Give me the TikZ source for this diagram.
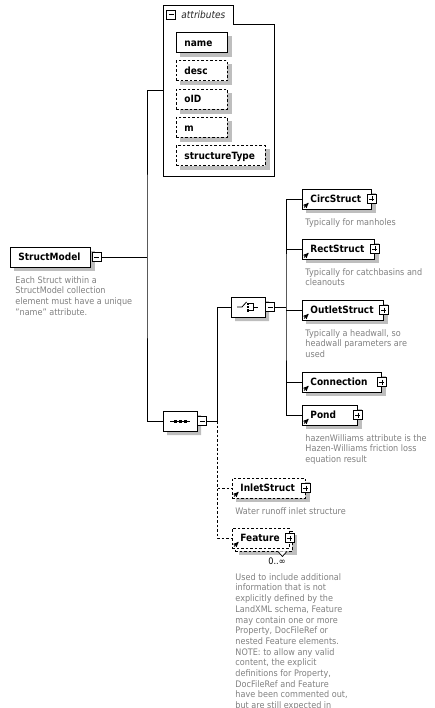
\documentclass[tikz,border=0pt]{standalone}
\usepackage{fontspec}
\setmainfont{DejaVu Sans}[FakeStretch=0.9]
\usetikzlibrary{arrows,positioning,shapes.misc,calc}

\definecolor{annotgray}{RGB}{128,128,128}
\definecolor{shadowgray}{RGB}{190,190,190}

\tikzset{
  elem/.style={draw,fill=white,font=\fontsize{10}{12}\selectfont\bfseries,
    minimum height=20pt,inner xsep=8pt,inner ysep=0pt,text height=7.5pt,text depth=0pt,
    align=left,anchor=west},
  optional/.style={dash pattern=on 2.5pt off 2pt},
  annot/.style={font=\fontsize{9}{10.7}\selectfont,text=annotgray,align=left,inner sep=0pt},
  btn/.style={draw,fill=white,solid,minimum size=9pt,inner sep=0pt,line width=0.7pt},
  minusbtn/.style={btn,path picture={
    \draw[line width=0.7pt] ([xshift=2pt]path picture bounding box.west) -- ([xshift=-2pt]path picture bounding box.east);}},
  plusbtn/.style={btn,path picture={
    \draw[line width=0.7pt] ([xshift=2pt]path picture bounding box.west) -- ([xshift=-2pt]path picture bounding box.east)
      ([yshift=-2pt]path picture bounding box.north) -- ([yshift=2pt]path picture bounding box.south);}},
  octagon/.style={chamfered rectangle,chamfered rectangle xsep=7pt,chamfered rectangle ysep=6pt,
    minimum width=34pt,minimum height=20pt,inner sep=0pt},
  compositor/.style={octagon,draw,fill=white},
  refarrow/.style={-stealth',solid,line width=0.9pt},
}

\begin{document}
\begin{tikzpicture}[x=1pt,y=-1pt,line width=0.9pt]
  \useasboundingbox (0,0) rectangle (435,708);

  % attributes frame
  \node[minimum width=111pt,minimum height=171pt,inner sep=0pt,anchor=north west] (attrs) at (163,5) {};
  \draw (attrs.south west) |- (attrs.north west) -- ++(70,0) |- ([yshift=-19pt]attrs.north east)
    -- (attrs.south east) -- cycle;
  \node[minusbtn] (attrsbtn) at (171,14.5) {};
  \node[font=\fontsize{10}{12}\selectfont\itshape,text=black!85,anchor=west,inner sep=0pt] (attrslabel)
    at (181,14.5) {attributes};

  % element boxes: box, its shadow, then the box again on top
  \foreach \n/\x/\y/\w/\s/\t in {root/10/257/64/solid/StructModel,
      name/176/42.5/35/solid/name, desc/176/70.8/35/optional/desc, oID/176/99.1/35/optional/oID,
      m/176/127.4/35/optional/m, structureType/176/155.7/73/optional/structureType,
      circ/302/199/53/solid/CircStruct, rect/302/249/56/solid/RectStruct,
      outlet/302/310/65/solid/OutletStruct, conn/302/382/63/solid/Connection,
      pond/302/415/39/solid/Pond, inlet/232/488/57/optional/InletStruct,
      featback/235/541/41/optional/{\phantom{Feature}}} {
    \node[elem,\s,text width=\w pt] (\n) at (\x,\y) {\t};
    \fill[shadowgray] ($(\n.south west)+(4,4)$) rectangle ($(\n.north east)+(4,4)$);
    \node[elem,\s,text width=\w pt] (\n) at (\x,\y) {\t};
  }
  \node[elem,optional,text width=41pt] (feature) at (232,538) {Feature};

  % notes
  \node[annot,below right=8.5pt and 5pt of root.south west] (rootnote)
    {Each Struct within a\\StructModel collection\\element must have a unique\\"name" attribute.};
  \node[annot,below right=8.5pt and 3pt of circ.south west] (circnote) {Typically for manholes};
  \node[annot,below right=8.5pt and 3pt of rect.south west] (rectnote)
    {Typically for catchbasins and\\cleanouts};
  \node[annot,below right=8.5pt and 3pt of outlet.south west] (outletnote)
    {Typically a headwall, so\\headwall parameters are\\used};
  \node[annot,below right=8.5pt and 3pt of pond.south west] (pondnote)
    {hazenWilliams attribute is the\\Hazen-Williams friction loss\\equation result};
  \node[annot,below right=8.5pt and 3pt of inlet.south west] (inletnote) {Water runoff inlet structure};
  \node[font=\fontsize{9}{11}\selectfont,inner sep=0pt] (featocc) at (277,561.5) {0..∞};
  \node[annot,below right=24.5pt and 3pt of feature.south west] (featurenote)
    {Used to include additional\\information that is not\\explicitly defined by the\\LandXML schema, Feature\\
     may contain one or more\\Property, DocFileRef or\\nested Feature elements.\\NOTE: to allow any valid\\
     content, the explicit\\definitions for Property,\\DocFileRef and Feature\\have been commented out,\\
     but are still expected in};

  % sequence
  \node[compositor] (seq) at (180,421) {};
  \fill[shadowgray] ($(seq.center)+(4,4)$) node[octagon,fill=shadowgray] (seqshadow) {};
  \node[compositor] (seq) at (180,421) {};
  \draw (seq.center) ++(-10,0) -- ++(20,0);
  \foreach \dx in {-5,0,5}
    \fill ([xshift=\dx pt]seq.center) +(-1.5pt,-1.5pt) rectangle +(1.5pt,1.5pt);

  % choice
  \node[compositor] (choice) at (248,307) {};
  \fill[shadowgray] ($(choice.center)+(4,4)$) node[octagon,fill=shadowgray] (choiceshadow) {};
  \node[compositor] (choice) at (248,307) {};
  \draw[line width=0.8pt] (choice.center) ++(-11,0) -- ++(5,0) -- ++(4.5,-5);
  \foreach \dy in {-3.3,0,3.3}
    \fill ([yshift=\dy pt]choice.center) +(-1.2pt,-1.2pt) rectangle +(1.4pt,1.2pt);
  \draw[line width=0.8pt] (choice.center) ++(1.4,-3.3) -| ++(4,6.6) -- ++(-4,0);
  \draw[line width=0.8pt] (choice.center) ++(5.4,0) -- ++(5,0);

  % buttons
  \node[minusbtn,right=1pt of root] (rootbtn) {};
  \node[minusbtn,right=0pt of seq] (seqbtn) {};
  \node[minusbtn,right=0pt of choice] (choicebtn) {};
  \foreach \n in {circ,rect,outlet,conn,pond,inlet,feature}
    \node[plusbtn] (\n btn) at (\n.east) {};
  \draw[line width=0.7pt,fill=white] ([xshift=-15pt]featback.south east) -- ++(4.5,5) -- ++(4.5,-5);

  % reference arrows
  \foreach \n in {circ,rect,outlet,conn,pond,inlet,feature}
    \draw[refarrow] ($(\n.south west)+(2,-2)$) -- ++(4.5,-4.5);

  % connectors
  \coordinate (trunk) at (147,257);
  \draw (rootbtn) -- (trunk);
  \draw (attrs.west) -| (trunk) |- (seq.west);
  \coordinate (seqbus) at (217,421);
  \draw (seqbtn) -- (seqbus) |- (choice.west);
  \draw[optional] (seqbus) |- (inlet.west);
  \draw[optional] (seqbus) |- (feature.west);
  \coordinate (choicebus) at (286,307);
  \draw (choicebtn) -- (choicebus);
  \draw (circ.west) -| (choicebus) |- (pond.west);
  \draw (choicebus |- rect.west) -- (rect.west);
  \draw (choicebus |- outlet.west) -- (outlet.west);
  \draw (choicebus |- conn.west) -- (conn.west);
\end{tikzpicture}
\end{document}
